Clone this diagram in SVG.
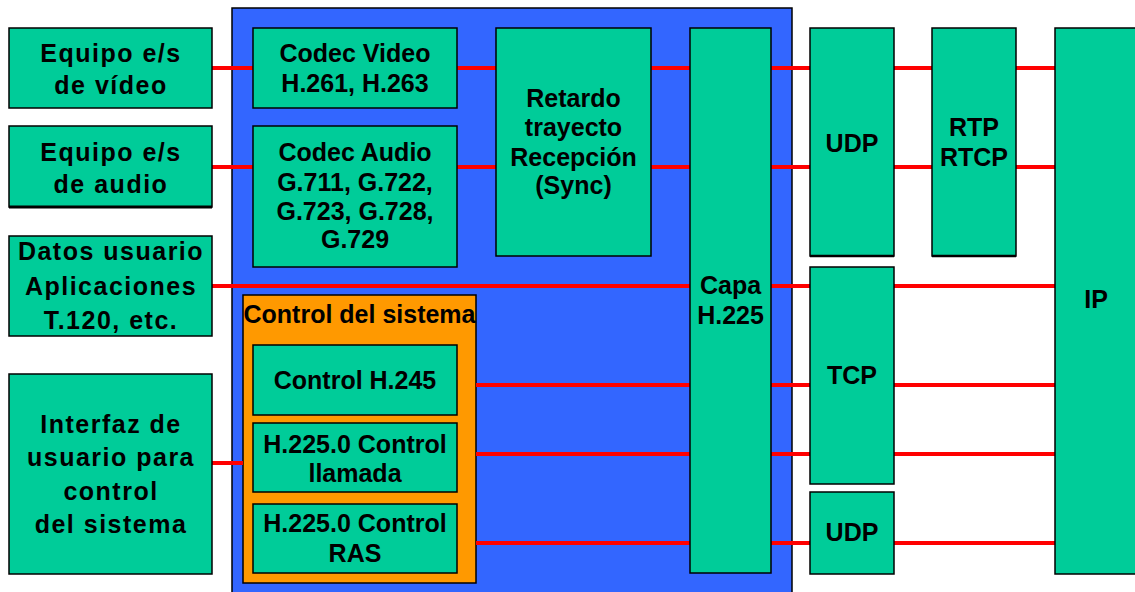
<svg xmlns="http://www.w3.org/2000/svg" width="1135" height="592" viewBox="0 0 1135 592">
<style>
.g{fill:#00CC99;stroke:#000;stroke-width:1.5}
.t{font-family:"Liberation Sans",Arial,sans-serif;font-weight:bold;font-size:25px;fill:#000;text-anchor:middle}
.w{letter-spacing:1.5px}
.c line{stroke:#FF0000;stroke-width:4}
</style>
<rect x="0" y="0" width="1135" height="592" fill="#fff"/>
<g id="sistema-h323">
<rect x="232" y="8" width="560" height="590" fill="#3366FF" stroke="#000" stroke-width="1.5"/>
</g>
<g id="control-sistema">
<rect x="243" y="295" width="233" height="288" fill="#FF9900" stroke="#000" stroke-width="1.5"/>
<text class="t" x="359.5" y="323">Control del sistema</text>
</g>
<g class="c" id="connectors">
<line x1="212" y1="68" x2="253" y2="68"/>
<line x1="457" y1="68" x2="496" y2="68"/>
<line x1="651" y1="68" x2="690" y2="68"/>
<line x1="771" y1="68" x2="810" y2="68"/>
<line x1="894" y1="68" x2="932" y2="68"/>
<line x1="1016" y1="68" x2="1055" y2="68"/>
<line x1="212" y1="167" x2="253" y2="167"/>
<line x1="457" y1="167" x2="496" y2="167"/>
<line x1="651" y1="167" x2="690" y2="167"/>
<line x1="771" y1="167" x2="810" y2="167"/>
<line x1="894" y1="167" x2="932" y2="167"/>
<line x1="1016" y1="167" x2="1055" y2="167"/>
<line x1="212" y1="286" x2="690" y2="286"/>
<line x1="771" y1="286" x2="810" y2="286"/>
<line x1="894" y1="286" x2="1055" y2="286"/>
<line x1="476" y1="385" x2="690" y2="385"/>
<line x1="771" y1="385" x2="810" y2="385"/>
<line x1="894" y1="385" x2="1055" y2="385"/>
<line x1="476" y1="454" x2="690" y2="454"/>
<line x1="771" y1="454" x2="810" y2="454"/>
<line x1="894" y1="454" x2="1055" y2="454"/>
<line x1="476" y1="543" x2="690" y2="543"/>
<line x1="771" y1="543" x2="810" y2="543"/>
<line x1="894" y1="543" x2="1055" y2="543"/>
<line x1="212" y1="463" x2="243" y2="463"/>
</g>
<g id="equipo-video">
<rect class="g" x="9" y="28" width="203" height="80"/>
<text class="t w" x="111" y="62">Equipo e/s</text>
<text class="t w" x="111" y="94">de vídeo</text>
</g>
<g id="equipo-audio">
<rect class="g" x="9" y="126" width="203" height="81"/>
<line x1="9" y1="207" x2="212" y2="207" stroke="#000" stroke-width="3"/>
<text class="t w" x="111" y="161">Equipo e/s</text>
<text class="t w" x="111" y="193">de audio</text>
</g>
<g id="datos-usuario">
<rect class="g" x="9" y="236" width="203" height="100"/>
<text class="t w" x="111" y="260">Datos usuario</text>
<text class="t w" x="111" y="295">Aplicaciones</text>
<text class="t w" x="111" y="329">T.120, etc.</text>
</g>
<g id="interfaz-usuario">
<rect class="g" x="9" y="374" width="203" height="200"/>
<text class="t w" x="111" y="433">Interfaz de</text>
<text class="t w" x="111" y="466">usuario para</text>
<text class="t w" x="111" y="500">control</text>
<text class="t w" x="111" y="533">del sistema</text>
</g>
<g id="codec-video">
<rect class="g" x="253" y="28" width="204" height="80"/>
<text class="t" x="355" y="62">Codec Video</text>
<text class="t" x="355" y="92">H.261, H.263</text>
</g>
<g id="codec-audio">
<rect class="g" x="253" y="126" width="204" height="141"/>
<text class="t" x="355" y="161">Codec Audio</text>
<text class="t" x="355" y="191">G.711, G.722,</text>
<text class="t" x="355" y="220">G.723, G.728,</text>
<text class="t" x="355" y="248">G.729</text>
</g>
<g id="control-h245">
<rect class="g" x="253" y="345" width="204" height="70"/>
<text class="t" x="355" y="389">Control H.245</text>
</g>
<g id="control-llamada">
<rect class="g" x="253" y="423" width="204" height="69"/>
<text class="t" x="355" y="453">H.225.0 Control</text>
<text class="t" x="355" y="482">llamada</text>
</g>
<g id="control-ras">
<rect class="g" x="253" y="504" width="204" height="69"/>
<text class="t" x="355" y="532">H.225.0 Control</text>
<text class="t" x="355" y="562">RAS</text>
</g>
<g id="retardo">
<rect class="g" x="496" y="28" width="155" height="228"/>
<text class="t" x="573.5" y="107">Retardo</text>
<text class="t" x="573.5" y="136">trayecto</text>
<text class="t" x="573.5" y="166">Recepción</text>
<text class="t" x="573.5" y="194">(Sync)</text>
</g>
<g id="capa-h225">
<rect class="g" x="690" y="28" width="81" height="545"/>
<text class="t" x="730.5" y="294">Capa</text>
<text class="t" x="730.5" y="324">H.225</text>
</g>
<g id="udp-1">
<rect class="g" x="810" y="28" width="84" height="228"/>
<line x1="810" y1="256" x2="894" y2="256" stroke="#000" stroke-width="2.5"/>
<text class="t" x="852" y="152">UDP</text>
</g>
<g id="rtp-rtcp">
<rect class="g" x="932" y="28" width="84" height="228"/>
<line x1="932" y1="256" x2="1016" y2="256" stroke="#000" stroke-width="2.5"/>
<text class="t" x="974" y="136">RTP</text>
<text class="t" x="974" y="166">RTCP</text>
</g>
<g id="tcp">
<rect class="g" x="810" y="267" width="84" height="217"/>
<text class="t" x="852" y="384">TCP</text>
</g>
<g id="udp-2">
<rect class="g" x="810" y="492" width="84" height="82"/>
<text class="t" x="852" y="541">UDP</text>
</g>
<g id="ip">
<rect class="g" x="1055" y="28" width="90" height="546"/>
<text class="t" x="1096" y="308">IP</text>
</g>
</svg>
